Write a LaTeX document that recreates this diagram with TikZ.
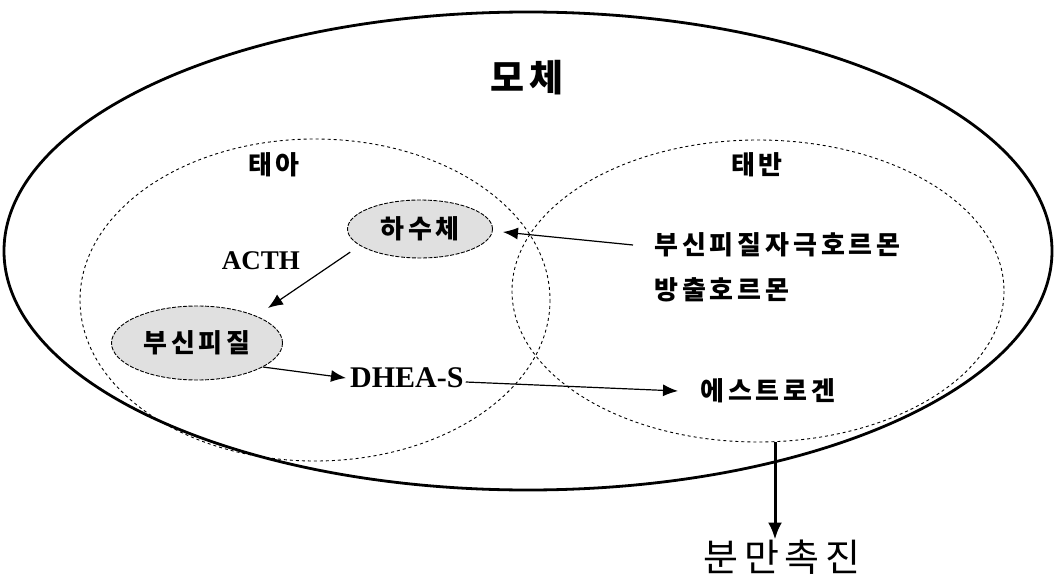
\documentclass[tikz,border=0pt]{standalone}
\usepackage{fontspec}
\setmainfont{Liberation Serif}
\newfontfamily\kr{Noto Sans CJK KR}[LetterSpace=15]
\usetikzlibrary{shapes.geometric,arrows.meta}
\definecolor{ellfill}{HTML}{E0E0E0}
\tikzset{
  zone/.style={draw=black,line width=0.9pt,dash pattern=on 3pt off 3pt},
  organ/.style={ellipse,draw=black,line width=0.9pt,dash pattern=on 4pt off 1.5pt,fill=ellfill,inner sep=0pt,font=\kr\bfseries\fontsize{26}{30}\selectfont},
  lbl/.style={font=\kr\bfseries\fontsize{26}{30}\selectfont,inner sep=2pt},
  big/.style={font=\kr\bfseries\fontsize{37}{40}\selectfont,inner sep=2pt},
  lat/.style={font=\bfseries\fontsize{27}{30}\selectfont,inner sep=2pt},
  arr/.style={line width=1.2pt,-{Latex[length=15pt,width=12pt]}},
  thickarr/.style={line width=3pt,-{Latex[length=17pt,width=14pt]}}
}
\begin{document}
\begin{tikzpicture}[x=1pt,y=-1pt]
\useasboundingbox (0,0) rectangle (1058,578);
% mother
\draw[line width=2.8pt] (528,251) ellipse [x radius=524, y radius=239];
% fetus and placenta zones
\draw[zone] (315,300) ellipse [x radius=235, y radius=161];
\draw[zone] (758,291) ellipse [x radius=246, y radius=151];
% titles
\node[big] (mother) at (527,78) {모체};
\node[lbl] (fetus) at (274,165) {태아};
\node[lbl] (plac) at (757,165) {태반};
% organs
\node[organ,minimum width=145pt,minimum height=58pt] (pit) at (420,229) {하수체};
\node[organ,minimum width=171pt,minimum height=74pt] (adr) at (197,343) {부신피질};
% labels
\node[lat] (acth) at (261,261) {ACTH};
\node[lat,anchor=west,font=\bfseries\fontsize{30}{32}\selectfont] (dhea) at (348,378) {DHEA-S};
\node[lbl,anchor=west] (crh) at (652,245) {부신피질자극호르몬};
\node[lbl,anchor=west] (crh2) at (652,290) {방출호르몬};
\node[lbl,anchor=west] (est) at (698,391) {에스트로겐};
\node[font=\kr\fontsize{38}{42}\selectfont,inner sep=0pt] (birth) at (782,557) {분만촉진};
\coordinate (eb) at (775,442);
% connectors
\draw[arr] ([xshift=-19pt]crh.west) -- ([xshift=10pt,yshift=-3pt]pit.east);
\draw[arr] ([xshift=-28pt,yshift=1pt]pit.210) -- ([xshift=5pt,yshift=11pt]adr.20);
\draw[arr] (adr.-20) -- ([xshift=-2pt]dhea.west);
\draw[arr] ([yshift=-4pt]dhea.east) -- ([xshift=-20pt]est.west);
\draw[thickarr] (eb) -- (eb |- birth.north);
\end{tikzpicture}
\end{document}
